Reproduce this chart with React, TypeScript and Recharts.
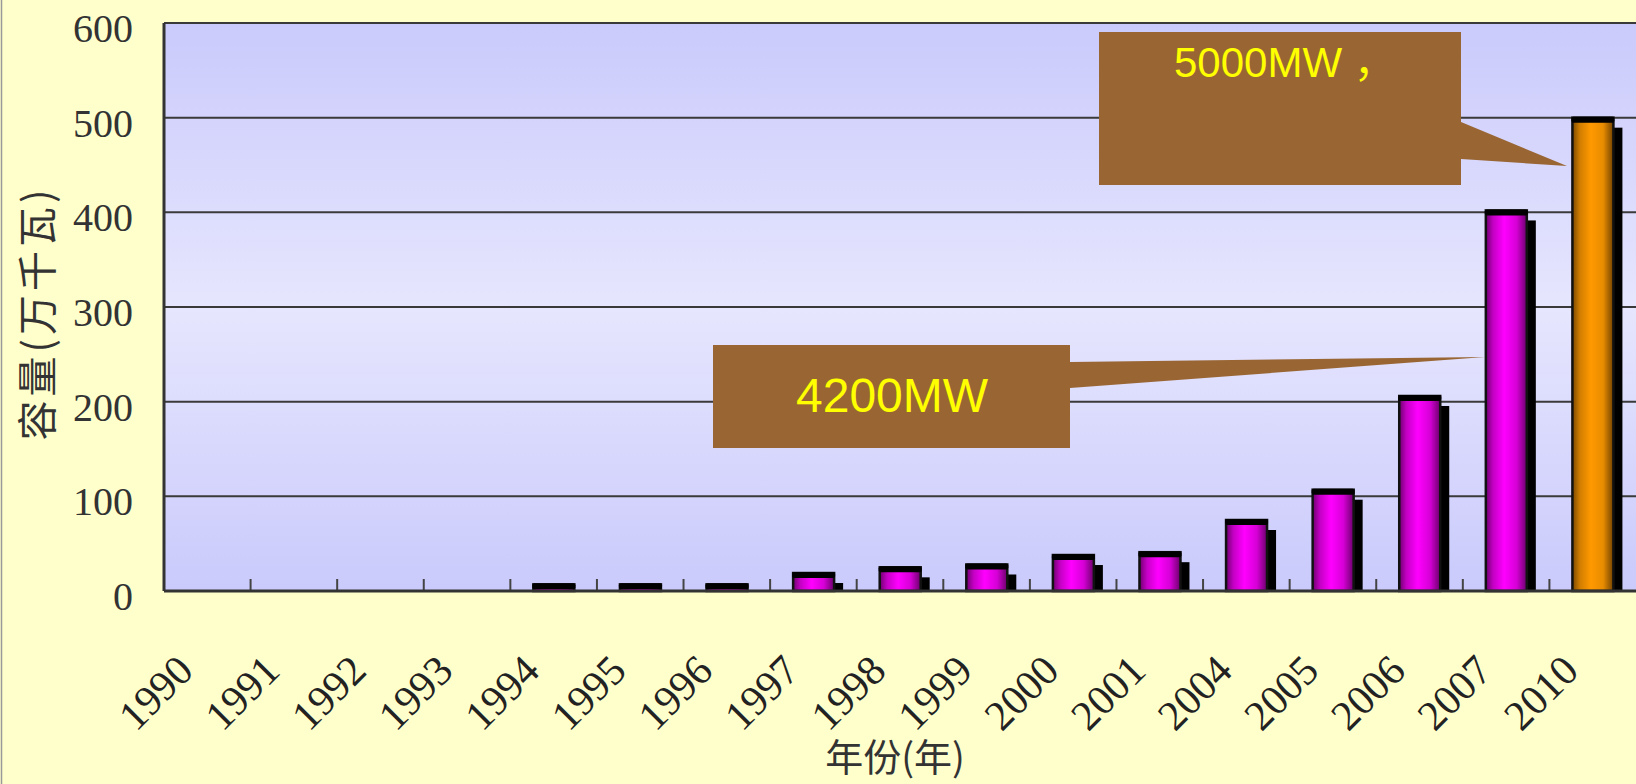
import { Bar, BarChart, CartesianGrid, Cell, ReferenceLine, XAxis, YAxis } from 'recharts'

const YEARS = ['1990', '1991', '1992', '1993', '1994', '1995', '1996', '1997', '1998', '1999', '2000', '2001', '2004', '2005', '2006', '2007', '2010']
const CAPACITY = [0, 0, 0, 0, 7, 7, 7, 19, 25, 28, 38, 41, 75, 107, 206, 402, 500]
const Y_TICKS = [0, 100, 200, 300, 400, 500, 600]
const HIGHLIGHT_YEAR = '2010'
const Y_TITLE = '容量(万千瓦)'
const X_TITLE = '年份(年)'
const CALLOUT_2010 = '5000MW ，'
const CALLOUT_2007 = '4200MW'

const data = YEARS.map((year, i) => ({ year, capacity: CAPACITY[i] }))

const W = 1636
const H = 784
const SERIF = '"Liberation Serif", "DejaVu Serif", serif'
const CJK = '"Noto Sans CJK SC", "Noto Sans", sans-serif'

function YTick({ x, y, payload }: any) {
  return (
    <text x={x} y={y + 5} dy="0.35em" textAnchor="end" fontFamily={SERIF} fontSize={40} fill="#333">
      {payload.value}
    </text>
  )
}

function XTick({ x, y, payload }: any) {
  return (
    <text
      transform={`translate(${x - 12},${y + 82}) rotate(-45)`}
      textAnchor="end"
      fontFamily={SERIF}
      fontSize={42}
      fill="#222"
    >
      {payload.value}
    </text>
  )
}

// short upward tick at the start of a category band
function BoundaryTick(props: any) {
  const { x1, y1, y2 } = props
  const bottom = Math.max(y1, y2)
  return <line x1={x1} x2={x1} y1={bottom - 1} y2={bottom - 12} stroke="#444" strokeWidth={2} />
}

function Bar3D(props: any) {
  const { x, y, width, height, fill } = props
  if (!height || height <= 0) return null
  const depth = 9
  const drop = 10
  return (
    <g>
      {height > drop && <rect x={x + width} y={y + drop} width={depth} height={height - drop} fill="#000" />}
      <rect x={x} y={y} width={width} height={height} fill={fill} stroke="#111" strokeWidth={2.5} />
      <rect x={x - 1} y={y - 1} width={width + 2} height={Math.min(6, height + 1)} rx={2} fill="#000" />
    </g>
  )
}

export default function App() {
  return (
    <div style={{ position: 'fixed', left: 0, top: 0, width: W, height: H, background: '#FFFFCC', overflow: 'hidden' }}>
      <BarChart width={W} height={H} data={data} margin={{ top: 23, right: 0, bottom: 192, left: 0 }} barSize={41}>
        <defs>
          <linearGradient id="plot-bg" x1="0" y1="0" x2="0" y2="1">
            <stop offset="0%" stopColor="#CACAFC" />
            <stop offset="50%" stopColor="#E6E6FE" />
            <stop offset="100%" stopColor="#CACAFC" />
          </linearGradient>
          <linearGradient id="bar-magenta" x1="0" y1="0" x2="1" y2="0">
            <stop offset="0%" stopColor="#6e006e" />
            <stop offset="18%" stopColor="#c400c4" />
            <stop offset="45%" stopColor="#ff00ff" />
            <stop offset="75%" stopColor="#d600d6" />
            <stop offset="100%" stopColor="#6a006a" />
          </linearGradient>
          <linearGradient id="bar-orange" x1="0" y1="0" x2="1" y2="0">
            <stop offset="0%" stopColor="#7a4800" />
            <stop offset="18%" stopColor="#d07d00" />
            <stop offset="45%" stopColor="#ff9900" />
            <stop offset="75%" stopColor="#e88c00" />
            <stop offset="100%" stopColor="#704200" />
          </linearGradient>
        </defs>
        <CartesianGrid vertical={false} fill="url(#plot-bg)" stroke="#3a3a3a" strokeWidth={2} />
        <XAxis
          dataKey="year"
          height={1}
          interval={0}
          axisLine={{ stroke: '#333', strokeWidth: 3 }}
          tickLine={false}
          tickSize={0}
          tickMargin={0}
          tick={<XTick />}
        />
        <YAxis
          width={164}
          domain={[0, 600]}
          ticks={Y_TICKS}
          axisLine={{ stroke: '#333', strokeWidth: 3 }}
          tickLine={false}
          tickSize={0}
          tickMargin={31}
          tick={<YTick />}
        />
        {YEARS.slice(1).map(year => (
          <ReferenceLine key={year} x={year} position="start" shape={(p: any) => <BoundaryTick {...p} />} />
        ))}
        <Bar dataKey="capacity" shape={(p: any) => <Bar3D {...p} />} isAnimationActive={false}>
          {data.map(d => (
            <Cell key={d.year} fill={d.year === HIGHLIGHT_YEAR ? 'url(#bar-orange)' : 'url(#bar-magenta)'} />
          ))}
        </Bar>
      </BarChart>
      <svg width={W} height={H} style={{ position: 'absolute', left: 0, top: 0, pointerEvents: 'none' }}>
        <line x1={1.5} x2={1.5} y1={0} y2={H} stroke="#999" strokeWidth={1.5} />
        <text
          transform="translate(52,313) rotate(-90)"
          textAnchor="middle"
          fontFamily={CJK}
          fontSize={40}
          letterSpacing={4}
          fill="#333"
        >
          {Y_TITLE}
        </text>
        <text x={895} y={771} textAnchor="middle" fontFamily={CJK} fontSize={38} fill="#333">
          {X_TITLE}
        </text>
        <path d="M1099,32 H1461 V122 L1567,166 L1461,159 V185 H1099 Z" fill="#996633" />
        <text x={1174} y={77} fontFamily={'"Liberation Sans", Arial, ' + CJK} fontSize={42} fill="#FFFF00">
          {CALLOUT_2010}
        </text>
        <path d="M713,345 H1070 V362 L1485,357 L1070,388 V448 H713 Z" fill="#996633" />
        <text x={796} y={412} fontFamily={'"Liberation Sans", Arial, sans-serif'} fontSize={48} fill="#FFFF00">
          {CALLOUT_2007}
        </text>
      </svg>
    </div>
  )
}
